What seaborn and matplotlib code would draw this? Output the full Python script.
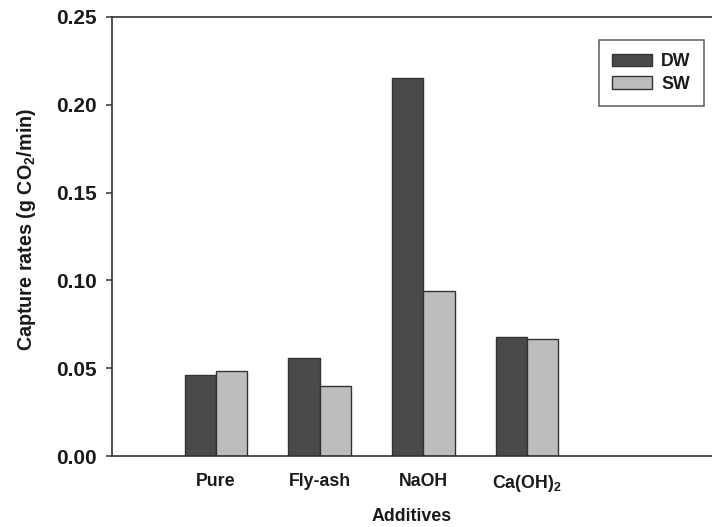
import matplotlib
matplotlib.use("Agg")
import matplotlib.pyplot as plt
import seaborn as sns
import pandas as pd

# Capture rates per additive, distilled water (DW) vs sea water (SW)
additives = ["Pure", "Fly-ash", "NaOH", "Ca(OH)$_2$"]
dw_rates = [0.046, 0.0557, 0.2152, 0.0678]
sw_rates = [0.0485, 0.0396, 0.0937, 0.0667]
series = ["DW", "SW"]
yticks = [0.00, 0.05, 0.10, 0.15, 0.20, 0.25]

df = pd.DataFrame({
    "Additive": additives * 2,
    "Rate": dw_rates + sw_rates,
    "Water": [series[0]] * len(additives) + [series[1]] * len(additives),
})

sns.set_style("ticks")
plt.rcParams["font.family"] = ["Liberation Sans", "DejaVu Sans"]
plt.rcParams["font.weight"] = "bold"
plt.rcParams["mathtext.fontset"] = "custom"
plt.rcParams["mathtext.rm"] = "Liberation Sans:bold"
plt.rcParams["mathtext.it"] = "Liberation Sans:bold"
plt.rcParams["mathtext.bf"] = "Liberation Sans:bold"

fig = plt.figure(figsize=(7.12, 5.27), dpi=100)
ax = fig.add_axes([112 / 712, 1 - 456 / 527, 600 / 712, 439 / 527])

sns.barplot(
    data=df, x="Additive", y="Rate", hue="Water", order=additives,
    hue_order=series, palette={"DW": "#4a4a4a", "SW": "#bdbdbd"},
    width=0.6, gap=0, edgecolor="#333333", linewidth=1.0,
    saturation=1, ax=ax,
)

ax.set_xlim(-1.0, 4.78)
ax.set_ylim(0, 0.25)
ax.set_yticks(yticks)
ax.set_yticklabels([f"{v:.2f}" for v in yticks])

for side in ["left", "bottom", "top"]:
    ax.spines[side].set_visible(True)
    ax.spines[side].set_color("#333333")
    ax.spines[side].set_linewidth(1.2)
ax.spines["right"].set_visible(False)

ax.tick_params(axis="y", direction="out", length=4, width=1.1, color="#333333",
               labelsize=15, pad=7, labelcolor="#1a1a1a")
ax.tick_params(axis="x", length=0, labelsize=12.8, pad=12, labelcolor="#1a1a1a")
for lbl in ax.get_xticklabels() + ax.get_yticklabels():
    lbl.set_fontweight("bold")

ax.set_xlabel("Additives", fontsize=12.8, fontweight="bold", color="#1a1a1a")
ax.xaxis.set_label_coords(0.5, -0.118)
ax.set_ylabel("Capture rates (g CO$_2$/min)", fontsize=14.2, fontweight="bold",
              color="#1a1a1a")
ax.yaxis.set_label_coords(-0.123, 0.517)

leg = ax.legend(
    loc="upper right", bbox_to_anchor=(0.9867, 0.9476), borderaxespad=0,
    fancybox=False, frameon=True, fontsize=12.8, handlelength=2.25,
    handleheight=0.72, handletextpad=0.5, borderpad=0.75, labelspacing=0.3,
    title=None,
)
leg.get_frame().set_edgecolor("#333333")
leg.get_frame().set_linewidth(1.1)
for t in leg.get_texts():
    t.set_fontweight("bold")
    t.set_color("#1a1a1a")

fig.savefig("out.png", dpi=100)
